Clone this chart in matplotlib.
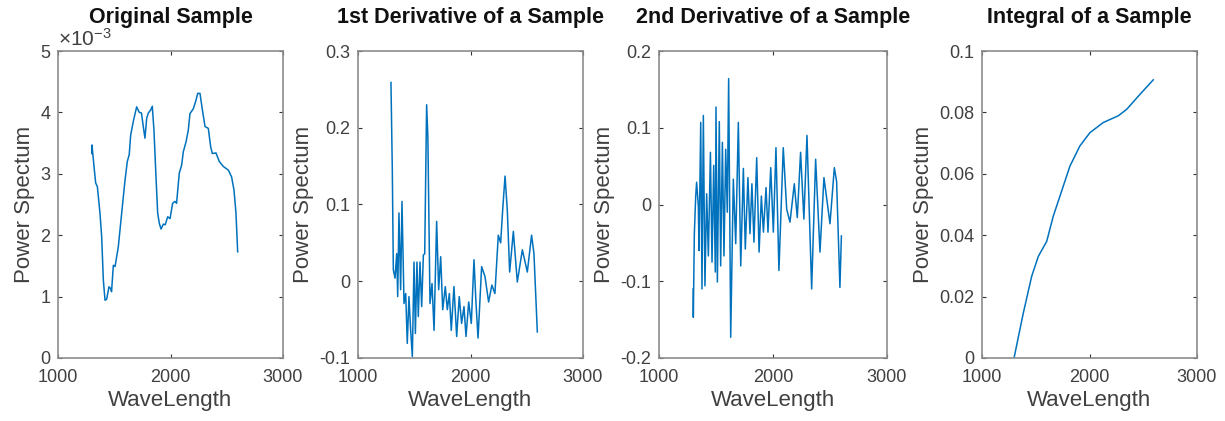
import matplotlib
matplotlib.use("Agg")
import matplotlib.pyplot as plt
from matplotlib.ticker import FuncFormatter, MultipleLocator

plt.rcParams['font.family'] = ['Liberation Sans', 'DejaVu Sans']
plt.rcParams['axes.unicode_minus'] = False
plt.rcParams['mathtext.fontset'] = 'custom'
plt.rcParams['mathtext.rm'] = 'Liberation Sans'
plt.rcParams['mathtext.default'] = 'regular'

# original sample
orig_x = [1300, 1302, 1320, 1335, 1350, 1373, 1388, 1403, 1418, 1433, 1453, 1468, 1476,
          1492, 1507, 1536, 1566, 1596, 1616, 1633, 1646, 1669, 1699, 1723, 1742, 1758,
          1773, 1788, 1803, 1824, 1838, 1853, 1871, 1886, 1901, 1916, 1936, 1953, 1975,
          1996, 2019, 2039, 2054, 2078, 2099, 2114, 2138, 2158, 2173, 2203, 2227, 2242,
          2262, 2286, 2307, 2336, 2357, 2372, 2404, 2434, 2469, 2514, 2543, 2564, 2582, 2597]
orig_y = [3.33, 3.47, 3.12, 2.85, 2.79, 2.36, 1.98, 1.27, 0.94, 0.96, 1.16, 1.13, 1.08,
          1.51, 1.49, 1.81, 2.36, 2.90, 3.20, 3.31, 3.63, 3.85, 4.09, 4.00, 3.99, 3.77,
          3.58, 3.90, 3.99, 4.04, 4.10, 3.71, 2.95, 2.36, 2.19, 2.10, 2.18, 2.17, 2.30,
          2.27, 2.52, 2.55, 2.52, 3.01, 3.14, 3.36, 3.52, 3.71, 3.98, 4.06, 4.20, 4.31,
          4.31, 4.01, 3.77, 3.74, 3.44, 3.33, 3.34, 3.20, 3.12, 3.06, 2.95, 2.74, 2.36, 1.73]

# 1st derivative
d1_x = [1293, 1305, 1314, 1329, 1344, 1353, 1364, 1379, 1391, 1409, 1424, 1438, 1453,
        1468, 1483, 1498, 1510, 1524, 1536, 1551, 1566, 1581, 1593, 1610, 1621, 1640,
        1658, 1676, 1699, 1717, 1735, 1753, 1776, 1794, 1812, 1829, 1853, 1877, 1900,
        1921, 1942, 1960, 1984, 2007, 2031, 2049, 2067, 2099, 2129, 2161, 2190, 2217,
        2247, 2268, 2286, 2307, 2327, 2348, 2381, 2416, 2461, 2505, 2543, 2564, 2594]
d1_y = [0.259, 0.145, 0.015, 0.004, 0.036, -0.020, 0.089, -0.011, 0.104, -0.029, -0.016,
        -0.081, -0.020, -0.064, -0.098, 0.025, -0.068, 0.025, -0.046, 0.025, -0.033,
        0.034, 0.036, 0.230, 0.188, -0.029, -0.003, -0.064, 0.078, -0.011, 0.032, -0.037,
        -0.007, -0.037, -0.016, -0.064, -0.007, -0.072, -0.020, -0.055, -0.033, -0.072,
        -0.027, -0.055, 0.028, -0.029, -0.074, 0.019, 0.006, -0.027, -0.005, -0.016,
        0.060, 0.050, 0.093, 0.137, 0.093, 0.012, 0.065, -0.001, 0.041, 0.012, 0.060,
        0.036, -0.066]

# 2nd derivative
d2_x = [1300, 1301, 1310, 1322, 1330, 1345, 1351, 1366, 1377, 1389, 1403, 1418, 1433,
        1451, 1465, 1480, 1494, 1500, 1512, 1529, 1541, 1556, 1570, 1585, 1599, 1611,
        1629, 1652, 1673, 1696, 1717, 1740, 1757, 1780, 1798, 1815, 1833, 1857, 1878,
        1898, 1916, 1939, 1956, 1980, 2003, 2026, 2052, 2090, 2120, 2149, 2187, 2213,
        2242, 2271, 2298, 2339, 2374, 2412, 2447, 2500, 2538, 2558, 2587, 2600]
d2_y = [-0.110, -0.147, -0.038, 0.011, 0.029, -0.002, -0.060, 0.107, -0.110, 0.116,
        -0.106, 0.014, -0.067, 0.068, -0.075, 0.051, -0.088, 0.127, -0.101, 0.108,
        -0.080, 0.081, -0.067, 0.072, -0.010, 0.164, -0.173, 0.033, -0.051, 0.107,
        -0.080, 0.047, -0.058, 0.035, -0.038, 0.027, -0.049, 0.061, -0.062, 0.011,
        -0.036, 0.022, -0.036, 0.048, -0.036, 0.074, -0.086, 0.074, -0.006, -0.023,
        0.027, -0.017, 0.068, -0.019, 0.090, -0.110, 0.059, -0.062, 0.035, -0.025,
        0.048, 0.030, -0.108, -0.041]

# integral
int_x = [1298, 1384, 1462, 1524, 1602, 1663, 1741, 1818, 1911, 2004, 2128, 2268, 2346,
         2470, 2593]
int_y = [0.0, 0.0146, 0.0266, 0.0331, 0.0380, 0.0462, 0.0544, 0.0625, 0.0691, 0.0734,
         0.0767, 0.0789, 0.0810, 0.0859, 0.0906]

titles = ['Original Sample', '1st Derivative of a Sample',
          '2nd Derivative of a Sample', 'Integral of a Sample']
ylims = [(0, 5e-3), (-0.1, 0.3), (-0.2, 0.2), (0, 0.1)]
ysteps = [1e-3, 0.1, 0.1, 0.02]
boxes = [(58, 225), (358, 225), (659, 228), (982, 215)]

W, H = 1225, 421
fig = plt.figure(figsize=(W / 100, H / 100), dpi=100)
line_c = '#0072BD'
txt_c = '#404040'
edge_c = '#8c8c8c'

series = [(orig_x, [v * 1e-3 for v in orig_y]), (d1_x, d1_y), (d2_x, d2_y), (int_x, int_y)]

for i, (xs, ys) in enumerate(series):
    left, width = boxes[i]
    ax = fig.add_axes([left / W, (H - 358) / H, width / W, 307 / H])
    ax.plot(xs, ys, color=line_c, lw=1.1)
    ax.set_xlim(1000, 3000)
    ax.set_ylim(*ylims[i])
    ax.xaxis.set_major_locator(MultipleLocator(1000))
    ax.yaxis.set_major_locator(MultipleLocator(ysteps[i]))
    if i == 0:
        ax.yaxis.set_major_formatter(FuncFormatter(lambda v, p: '%g' % round(v * 1e3, 6)))
        ax.text(0.0, 1.005, r'$\times10^{-3}$', transform=ax.transAxes, fontsize=15,
                color=txt_c, ha='left', va='bottom')
    else:
        ax.yaxis.set_major_formatter(FuncFormatter(lambda v, p: '%g' % round(v, 6)))
    ax.tick_params(direction='in', length=3, width=0.8, top=True, right=True,
                   colors=txt_c, labelsize=13)
    ax.tick_params(axis='x', pad=8)
    ax.tick_params(axis='y', pad=5.5)
    ax.tick_params(color='#333333')
    for s in ax.spines.values():
        s.set_color(edge_c)
        s.set_linewidth(1.2)
    ax.set_title(titles[i], fontsize=15.5, fontweight='bold', color='#111111', pad=20)
    ax.set_xlabel('WaveLength', fontsize=16, color=txt_c, labelpad=3)
    ax.set_ylabel('Power Spectum', fontsize=16, color=txt_c, labelpad=4)

fig.savefig('out.png', dpi=100)
